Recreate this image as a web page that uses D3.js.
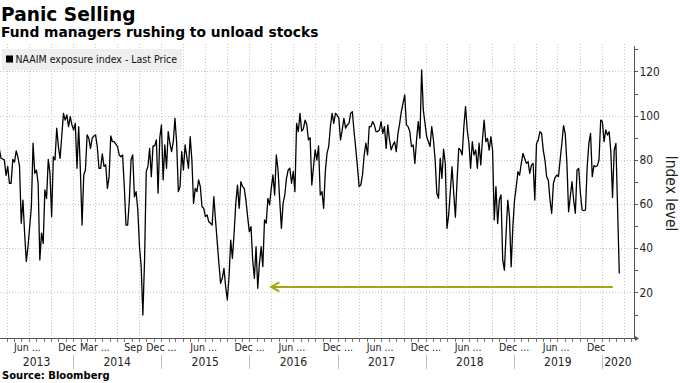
<!DOCTYPE html>
<html><head><meta charset="utf-8">
<script src="https://cdn.jsdelivr.net/npm/d3@7"></script>
<style>body{margin:0;background:#fff}svg{display:block}</style>
</head><body><svg id="c" width="680" height="383"></svg>
<script>
// ---- data ----
const seriesStart = "2013-03-01";           // week 0 of the weekly NAAIM readings
const weekIndex = [0,1,3,4,5,6,7,8,9,10,11,12,13,14,15,16,17,19,20,21,22,23,24,25,26,27,28,29,30,31,32,33,34,35,36,38,39,40,41,42,43,44,45,46,47,48,49,50,51,52,53,54,55,56,57,58,59,60,61,62,63,64,65,66,67,68,70,71,72,73,74,75,76,77,78,79,80,81,82,83,84,85,86,87,88,89,90,91,92,93,94,95,
96,97,98,99,100,101,102,103,104,105,106,107,108,109,110,111,112,113,114,115,116,117,118,119,120,121,122,123,124,125,126,127,128,129,130,131,132,133,134,135,136,137,138,139,140,141,142,143,144,145,146,147,148,149,150,151,152,153,154,155,156,157,158,159,160,161,162,163,164,165,166,167,168,169,170,171,172,173,174,175,176,177,178,179,180,181,182,183,184,
185,186,187,188,189,190,191,192,193,194,195,196,197,198,199,200,201,202,203,204,205,206,207,208,209,210,211,212,213,214,215,216,217,218,219,220,221,222,223,224,225,226,227,228,229,230,231,232,233,234,235,236,237,238,239,240,241,242,243,244,245,246,247,248,249,250,251,252,253,254,255,256,257,258,259,260,261,262,263,264,265,266,267,268,269,270,271,272,273,274,275,276,277,278,279,280,281,282,283,284,285,286,287,288,289,
290,291,292,293,294,295,296,297,298,299,300,301,302,303,304,305,306,307,308,309,310,311,312,313,314,315,316,317,318,319,320,321,322,323,324,325,326,327,328,329,330,331,332,333,334,335,336,337,338,339,340,341,342,343,344,345,346,347,348,349,350,351,352,353,354,355,356,357,358,359,360,361,362,363,364,365,367];
const indexValues = [85.2,80.7,80,73,77,69.4,69.4,80.2,79,84,81.4,77,51.3,61.8,46.8,34,40.7,58.8,87.5,73.9,75.4,69.4,34.7,46.8,42.2,66.4,62.6,80.2,73.9,54.3,81.4,80,94.3,86,80.7,101,98,100.3,95,99.5,95.8,93.5,96.5,76.2,95,75.4,50.5,73,75.4,91.3,89.7,85.2,89.7,90.8,91.3,86,76.2,76.2,82.7,77,77.8,67.1,72.4,90.8,88.2,88.2,86,82.2,81.4,82.2,67.9,50.5,50.5,61.8,80,82.2,63.3,65.6,57.3,40.7,31.7,9.8,34.7,74.7,77,85.2,72.4,86.3,86.3,89,64.9,90,
95.8,70.9,86.7,76.2,92.8,87.5,83.7,88.2,98.8,87.5,65.6,67.9,83.7,75.4,86.7,81.4,76.2,90.5,80,60.3,67.1,65.6,70.9,67.9,58.8,58.1,54.3,55.1,52,51.3,50.5,63.3,52.8,43,33.2,24.1,26.4,30.9,22.6,16.6,27.1,43.7,35.4,46.8,60.3,68.6,58.1,70.1,67.9,67.1,61.8,54.3,47.5,49.8,34.7,26.4,40.7,21.9,33.2,40.7,31.7,52.8,51.3,62.6,59.6,67.1,73.2,64.1,82.2,75.4,61.8,49,60.3,64.1,71.6,75.4,76.2,69.4,74.7,65.6,96.5,92.8,101,93,94,98,96,89,90,
68.6,76.9,84.5,79.9,86.3,64.1,65.6,58.1,74.7,83,86,95,101,96.5,101,100.3,98.8,89,93.5,98.8,94.3,95.8,96.5,101,101.8,92.8,85.2,76.9,67.9,68.6,73.2,82.2,87.5,82.2,95,95,97.3,95.8,92.8,92.8,93.5,97.3,92,95,85.2,95.8,89,84.5,86.7,88.2,83.7,92,96.5,101.8,105.6,109.4,95.8,95,92.8,86,86.7,78.4,89,97.3,89.7,120.7,102.6,96.5,90.5,88.2,86,95,89,79.9,64.9,62.6,80.7,71.6,84.8,78.4,49,55,66,76.9,64.9,54,71,85.2,84.5,82.2,95,104.1,93.5,87.5,76.2,88.2,82.2,84.5,76.2,87.5,77.7,89,98,88.2,89.7,
84.4,90.5,84.4,52.8,67.9,51.2,61.8,64.1,34.7,30.1,46.7,61.8,54.3,31.6,49.7,61.8,67.8,74.6,73.1,78.4,82.9,80.6,78.4,79.2,73.9,77.6,78.4,61.8,87.4,88.9,92.7,92,84.4,79.9,72.4,70.8,61.8,55.8,69.3,72,73.1,72.4,80,87.4,95.5,91.9,78.4,56.5,63.3,70.1,61.8,55.8,75.4,76.1,64.8,57.3,57,57.3,76.9,87.4,92,72.4,77.4,76.9,77.4,79.9,98,97.3,88.2,93.5,91.2,92.7,83.7,63,84.4,87.4,28.6];

const yMajorTicks = [20,40,60,80,100,120];
const yMinorTicks = [10,30,50,70,90,110,130];
const monthLabelDates = ["2013-06-01","2013-12-01","2014-03-01","2014-09-01","2014-12-01","2015-06-01","2015-12-01","2016-06-01","2016-12-01","2017-06-01","2017-12-01","2018-06-01","2018-12-01","2019-06-01","2019-12-01"];
const monthLabelTexts = ["Jun ...","Dec","Mar ...","Sep","Dec ...","Jun ...","Dec ...","Jun ...","Dec ...","Jun ...","Dec ...","Jun ...","Dec ...","Jun ...","Dec"];
const yearLabels = ["2013","2014","2015","2016","2017","2018","2019","2020"];
const arrowFromDate = "2020-02-15", arrowToDate = "2016-04-01", arrowLevel = 22.5;
const xStart = "2013-03-04", xEnd = "2020-05-13";
const yMin = -0.6, yMax = 132.4;

const title = "Panic Selling";
const subtitle = "Fund managers rushing to unload stocks";
const legendText = "NAAIM exposure index - Last Price";
const yTitle = "Index level";
const sourceText = "Source: Bloomberg";

// ---- drawing ----
const parse = d3.timeParse("%Y-%m-%d");
const svg = d3.select("#c");
const P = {left:0, right:634, top:44, bottom:338};
const cond = "'DejaVu Sans Condensed','DejaVu Sans',sans-serif";
const bold = "'DejaVu Sans',sans-serif";

const x = d3.scaleTime().domain([parse(xStart), parse(xEnd)]).range([P.left, P.right]);
const y = d3.scaleLinear().domain([yMin, yMax]).range([P.bottom, P.top]);
const t0 = parse(seriesStart);
const series = weekIndex.map((w,i) => ({date: d3.timeDay.offset(t0, 7*w), v: indexValues[i]}));
const snap = v => Math.round(v) + 0.5;

// grid
const grid = svg.append("g").attr("stroke","#c8c8c8").attr("stroke-width",1).attr("stroke-dasharray","1,2");
const quarters = d3.timeMonth.every(3).range(x.domain()[0], x.domain()[1]);
grid.selectAll("line.v").data(quarters).join("line").attr("class","v")
  .attr("x1",d=>snap(x(d))).attr("x2",d=>snap(x(d))).attr("y1",P.top).attr("y2",P.bottom);
grid.selectAll("line.h").data(yMajorTicks).join("line").attr("class","h")
  .attr("x1",P.left).attr("x2",P.right).attr("y1",d=>snap(y(d))).attr("y2",d=>snap(y(d)));

// legend
const lg = svg.append("g");
lg.append("rect").attr("x",2).attr("y",49).attr("width",180).attr("height",21).attr("fill","#efefef");
lg.append("rect").attr("x",6).attr("y",55.5).attr("width",7).attr("height",7).attr("fill","#000");
lg.append("text").attr("x",15.5).attr("y",63).attr("font-family",cond).attr("font-size",10.5).attr("fill","#111").text(legendText);

// series
svg.append("clipPath").attr("id","pc").append("rect").attr("x",P.left).attr("y",P.top-5).attr("width",P.right-P.left).attr("height",P.bottom-P.top+5);
svg.append("path").datum(series).attr("clip-path","url(#pc)")
  .attr("fill","none").attr("stroke","#000").attr("stroke-width",1.3).attr("stroke-linejoin","round")
  .attr("d", d3.line().x(d=>x(d.date)).y(d=>y(d.v)));

// annotation arrow
const ay = y(arrowLevel), ax0 = x(parse(arrowToDate)), ax1 = x(parse(arrowFromDate));
const ag = svg.append("g").attr("stroke","#a6a60c").attr("stroke-width",2).attr("fill","none");
ag.append("line").attr("x1",ax0).attr("x2",ax1).attr("y1",ay).attr("y2",ay);
ag.append("path").attr("d",`M${ax0+8},${ay-4.5}L${ax0},${ay}L${ax0+8},${ay+4.5}`);

// right axis
const ya = svg.append("g").attr("transform",`translate(${P.right},0)`);
ya.append("line").attr("x1",0.5).attr("x2",0.5).attr("y1",46).attr("y2",P.bottom).attr("stroke","#555");
ya.selectAll("line.t").data(yMajorTicks.concat(yMinorTicks)).join("line").attr("class","t")
  .attr("x1",0.5).attr("x2",4).attr("y1",d=>snap(y(d))).attr("y2",d=>snap(y(d))).attr("stroke","#555");
ya.selectAll("text").data(yMajorTicks).join("text")
  .attr("x",5.5).attr("y",d=>y(d)).attr("dy","0.35em")
  .attr("font-family",cond).attr("font-size",11.8).attr("fill","#222").text(d=>d);
svg.append("text").attr("transform",`translate(665.5,193.5) rotate(90)`).attr("text-anchor","middle")
  .attr("font-family",cond).attr("font-size",15.5).attr("fill","#222").text(yTitle);

// bottom axis
const xa = svg.append("g");
xa.append("line").attr("x1",P.left).attr("x2",P.right+2).attr("y1",P.bottom+0.5).attr("y2",P.bottom+0.5).attr("stroke","#555");
xa.append("path").attr("d",`M${P.right+1},${P.bottom-2}L${P.right+5},${P.bottom+0.5}L${P.right+1},${P.bottom+3}Z`).attr("fill","#555");
const months = d3.timeMonth.range(x.domain()[0], x.domain()[1]);
xa.selectAll("line.m").data(months).join("line").attr("class","m")
  .attr("x1",d=>snap(x(d))).attr("x2",d=>snap(x(d))).attr("y1",P.bottom+1).attr("y2",P.bottom+4).attr("stroke","#777");
xa.selectAll("text.ml").data(monthLabelDates).join("text").attr("class","ml")
  .attr("x",d=>x(parse(d))-7.4).attr("y",351).attr("font-family",cond).attr("font-size",10.5).attr("fill","#222")
  .text((d,i)=>monthLabelTexts[i]);
const yearStarts = yearLabels.map(s=>parse(s+"-01-01"));
xa.selectAll("line.ys").data(yearStarts.slice(1)).join("line").attr("class","ys")
  .attr("x1",d=>snap(x(d))).attr("x2",d=>snap(x(d))).attr("y1",355).attr("y2",369).attr("stroke","#c0c0c0");
xa.selectAll("text.yl").data(yearLabels).join("text").attr("class","yl")
  .attr("x",(s,i)=>{const a=Math.max(P.left,x(yearStarts[i])); const b=Math.min(P.right,x(parse((+s+1)+"-01-01"))); return (a+b)/2;})
  .attr("y",366).attr("text-anchor","middle").attr("font-family",cond).attr("font-size",12).attr("fill","#222").text(s=>s);

// titles
svg.append("text").attr("x",1).attr("y",21).attr("font-family",bold).attr("font-weight","bold").attr("font-size",18.6).attr("fill","#000").text(title);
svg.append("text").attr("x",1).attr("y",37).attr("font-family",bold).attr("font-weight","bold").attr("font-size",13.8).attr("fill","#000").text(subtitle);
svg.append("text").attr("x",2).attr("y",379).attr("font-family",bold).attr("font-weight","bold").attr("font-size",10).attr("fill","#000").text(sourceText);
</script></body></html>
